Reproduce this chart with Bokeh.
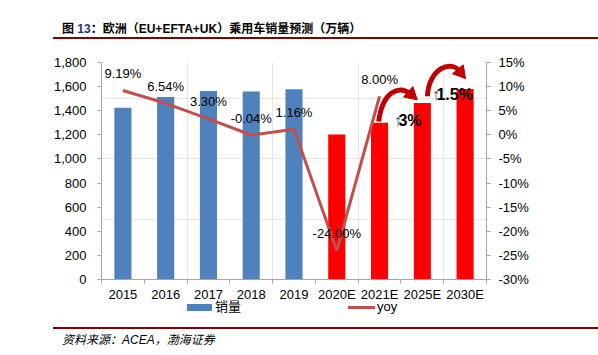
from bokeh.plotting import figure
from bokeh.models import (Range1d, LinearAxis, FixedTicker, NumeralTickFormatter,
                          PrintfTickFormatter, Div, ColumnDataSource)
from bokeh.layouts import column
from bokeh.core.properties import value
from bokeh.embed import file_html
from bokeh.resources import INLINE

# ---------------- data ----------------
categories = ["2015", "2016", "2017", "2018", "2019", "2020E", "2021E", "2025E", "2030E"]
sales = [1424, 1514, 1563, 1559, 1579, 1203, 1301, 1465, 1580]      # 销量 (万辆)
yoy = [9.19, 6.54, 3.30, -0.04, 1.16, -24.00, 8.00]                  # yoy (%)
growth_notes = ["3%", "1.5%"]                                        # 2021E->2025E, 2025E->2030E
left_ticks = [0, 200, 400, 600, 800, 1000, 1200, 1400, 1600, 1800]
right_ticks = [-30, -25, -20, -15, -10, -5, 0, 5, 10, 15]

FONT = "Liberation Sans"
CJK = "Noto Sans CJK SC"
BLUE = "#4F81BD"
RED = "#FF0000"
LINE = "#C0504D"
DARKRED = "#C00000"
AXIS = "#A6A6A6"

n = len(categories)
xc = [i + 0.5 for i in range(n)]
hist = [i for i, c in enumerate(categories) if not c.endswith("E")]
fcst = [i for i, c in enumerate(categories) if c.endswith("E")]

p = figure(width=590, height=262, x_range=Range1d(0, n), y_range=Range1d(0, 1800),
           output_backend="svg", toolbar_location=None,
           x_axis_location=None, y_axis_location=None,
           min_border_left=101, min_border_right=104, min_border_top=20, min_border_bottom=22,
           margin=0)
p.outline_line_color = None
p.background_fill_color = "white"
p.border_fill_color = "white"
p.extra_y_ranges = {"yoy": Range1d(-30, 15)}

def style_axis(ax):
    ax.axis_line_color = AXIS
    ax.major_tick_line_color = AXIS
    ax.minor_tick_line_color = None
    ax.major_tick_in = 0
    ax.major_tick_out = 4
    ax.major_label_text_font = FONT
    ax.major_label_text_font_size = "13px"
    ax.major_label_text_color = "black"

yl = LinearAxis(ticker=FixedTicker(ticks=left_ticks), formatter=NumeralTickFormatter(format="0,0"))
style_axis(yl)
yl.major_label_standoff = 11
p.add_layout(yl, "left")

yr = LinearAxis(y_range_name="yoy", ticker=FixedTicker(ticks=right_ticks),
                formatter=PrintfTickFormatter(format="%d%%"))
style_axis(yr)
yr.major_label_standoff = 8
p.add_layout(yr, "right")

# category axis: labels at centres (major), tick marks at boundaries (minor)
xl = LinearAxis(ticker=FixedTicker(ticks=xc, minor_ticks=list(range(n + 1))),
                major_label_overrides={x: c for x, c in zip(xc, categories)})
style_axis(xl)
xl.major_tick_line_color = None
xl.major_tick_out = 0
xl.minor_tick_line_color = AXIS
xl.minor_tick_in = 0
xl.minor_tick_out = 4
xl.major_label_standoff = 3
p.add_layout(xl, "below")

# bars
src_h = ColumnDataSource(dict(x=[xc[i] for i in hist], top=[sales[i] for i in hist]))
src_f = ColumnDataSource(dict(x=[xc[i] for i in fcst], top=[sales[i] for i in fcst]))
p.vbar(x="x", top="top", width=0.4, source=src_h, fill_color=BLUE, line_color=None)
p.vbar(x="x", top="top", width=0.4, source=src_f, fill_color=RED, line_color=None)

# yoy line with labels
src_y = ColumnDataSource(dict(x=xc[:len(yoy)], y=yoy, t=[f"{v:.2f}%" for v in yoy]))
p.line(x="x", y="y", source=src_y, y_range_name="yoy", line_color=LINE, line_width=3)
p.text(x="x", y="y", text="t", source=src_y, y_range_name="yoy", y_offset=-17,
       text_align="center", text_baseline="middle", text_font=value(FONT),
       text_font_size="13px", text_color="black")

# growth arrows (annotations)
i21, i25, i30 = categories.index("2021E"), categories.index("2025E"), categories.index("2030E")
arrows = [
    # x0, y0, cx0, cy0, cx1, cy1, x1, y1, head angle
    (xc[i21] - 0.02, sales[i21] + 10, xc[i21] + 0.07, 1555, xc[i21] + 0.44, 1620, xc[i25] - 0.26, 1535, -2.3),
    (xc[i25] + 0.12, sales[i25] + 55, xc[i25] + 0.14, 1751, xc[i25] + 0.70, 1833, xc[i30] - 0.11, 1718, -2.45),
]
for (x0, y0, cx0, cy0, cx1, cy1, x1, y1, ang) in arrows:
    p.bezier(x0=[x0], y0=[y0], cx0=[cx0], cy0=[cy0], cx1=[cx1], cy1=[cy1], x1=[x1], y1=[y1],
             line_color=DARKRED, line_width=5)
    p.scatter(x=[x1], y=[y1], marker="triangle", size=14, angle=ang,
              fill_color=DARKRED, line_color=DARKRED)

note_x = [xc[i21] + 0.33, xc[i25] + 0.22]
note_y = [sales[i21] + 15, sales[i25] + 73]
p.text(x=note_x, y=note_y, text=["↑", "↑"], text_align="left", text_baseline="middle",
       text_font=value(FONT), text_font_size="16px", text_color="#1F497D")
p.text(x=[x + 0.11 for x in note_x], y=note_y, text=growth_notes, text_align="left",
       text_baseline="middle", text_font=value(FONT), text_font_style="bold",
       text_font_size="16px", text_color="black")

title = Div(width=598, height=42, margin=0, text=(
    "<div style='position:relative;width:598px;height:42px;'>"
    f"<div style=\"position:absolute;left:62px;top:21px;white-space:nowrap;font-weight:bold;font-size:12px;font-family:'{FONT}','{CJK}';color:#000;\">"
    "图 <span style='color:#1F3864'>13</span>：欧洲（EU+EFTA+UK）乘用车销量预测（万辆）</div>"
    "<div style='position:absolute;left:53px;right:0;top:37px;height:2px;background:#7F0000;'></div>"
    "</div>"))

footer = Div(width=598, height=43, margin=0, text=(
    "<div style='position:relative;width:598px;height:43px;'>"
    f"<div style='position:absolute;left:187px;top:0px;width:25px;height:7px;background:{BLUE};'></div>"
    f"<div style=\"position:absolute;left:215px;top:-4px;line-height:14px;font-size:13px;font-family:'{FONT}','{CJK}';color:#000;\">销量</div>"
    f"<div style='position:absolute;left:348px;top:2px;width:27px;height:3px;background:{LINE};'></div>"
    f"<div style=\"position:absolute;left:377px;top:-4px;line-height:14px;font-size:13px;font-family:'{FONT}';color:#000;\">yoy</div>"
    "<div style='position:absolute;left:53px;right:0;top:23px;height:2px;background:#7F0000;'></div>"
    f"<div style=\"position:absolute;left:62px;top:29px;line-height:14px;white-space:nowrap;font-style:italic;font-size:12px;font-family:'{FONT}','{CJK}';color:#000;\">"
    "资料来源：ACEA，渤海证券</div>"
    "</div>"))

layout = column(title, p, footer, spacing=0)
open("out.html", "w").write(file_html(layout, INLINE))
